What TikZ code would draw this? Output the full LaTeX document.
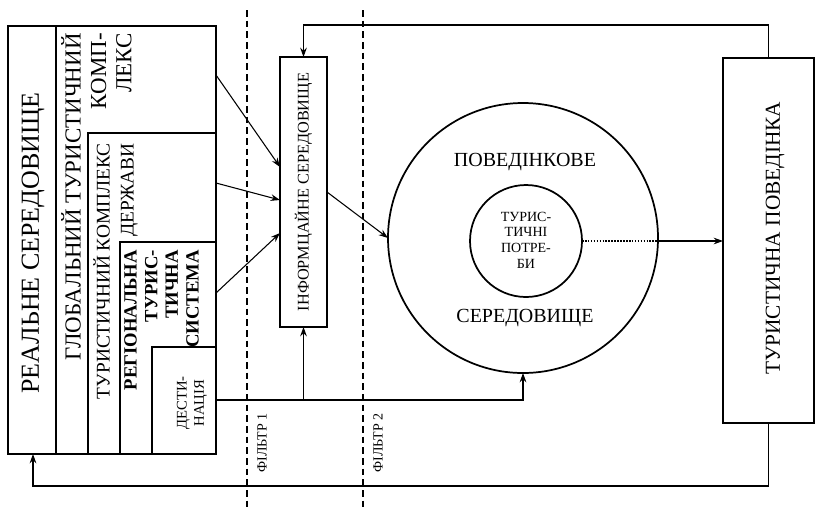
\documentclass[tikz,border=0pt]{standalone}
\usepackage{fontspec}
\setmainfont{Liberation Serif}
\usetikzlibrary{arrows.meta}
\begin{document}
\begin{tikzpicture}[x=0.75pt,y=-0.75pt,
  box/.style={draw, rectangle, inner sep=0pt, outer sep=0pt, line width=1.6pt},
  ring/.style={draw, circle, inner sep=0pt, outer sep=0pt, line width=1.3pt},
  arr/.style={-{Stealth[length=7pt,width=5pt]}, line width=0.8pt},
  filt/.style={dash pattern=on 5pt off 3pt, line width=0.8pt},
  vtxt/.style={rotate=90, inner sep=0pt}]
\useasboundingbox (0,0) rectangle (816,508);
% nested boxes
\node[box, minimum width=156pt, minimum height=321pt] (real) at (112,240) {};
\node[box, minimum width=120pt, minimum height=321pt] (glob) at (136,240) {};
\node[box, minimum width=96pt, minimum height=240.75pt] (state) at (152,293.5) {};
\node[box, minimum width=72pt, minimum height=159pt] (rts) at (168,348) {};
\node[box, minimum width=48pt, minimum height=80.25pt] (dest) at (184,400.5) {};
% other boxes
\node[box, minimum width=35.25pt, minimum height=202.5pt] (info) at (303.5,192) {};
\node[box, line width=1.4pt, minimum width=68.25pt, minimum height=273.75pt] (right) at (768.5,240.5) {};
\node[ring, minimum size=202.5pt] (outer) at (523,238) {};
\node[ring, minimum size=84pt] (inner) at (526,241) {};
% texts
\node[vtxt, font=\fontsize{19.5}{23}\selectfont] (treal) at (33,243) {РЕАЛЬНЕ СЕРЕДОВИЩЕ};
\node[vtxt, align=right, anchor=north east, font=\fontsize{17.2}{19}\selectfont] (tglob) at (61,33) {ГЛОБАЛЬНИЙ ТУРИСТИЧНИЙ\\КОМП-\\ЛЕКС};
\node[vtxt, align=right, anchor=north east, font=\fontsize{14.5}{18}\selectfont] (tstate) at (93,143) {ТУРИСТИЧНИЙ КОМПЛЕКС\\ДЕРЖАВИ};
\node[vtxt, align=right, anchor=north east, font=\bfseries\fontsize{14}{15.5}\selectfont] (trts) at (124,250) {РЕГІОНАЛЬНА\\ТУРИС-\\ТИЧНА\\СИСТЕМА};
\node[vtxt, align=center, font=\fontsize{11}{13}\selectfont] (tdest) at (192,403) {ДЕСТИ-\\НАЦІЯ};
\node[vtxt, font=\fontsize{12.2}{14}\selectfont] (tinfo) at (303.5,192) {ІНФОРМЦАЙНЕ СЕРЕДОВИЩЕ};
\node[vtxt, font=\fontsize{16}{19}\selectfont] (tright) at (775,238) {ТУРИСТИЧНА ПОВЕДІНКА};
\node[font=\fontsize{15}{18}\selectfont] (tpov) at (525,162) {ПОВЕДІНКОВЕ};
\node[font=\fontsize{15}{18}\selectfont] (tser) at (525,318) {СЕРЕДОВИЩЕ};
\node[align=center, inner sep=0pt, font=\fontsize{10.5}{11.75}\selectfont] (tneeds) at (526,240) {ТУРИС-\\ТИЧНІ\\ПОТРЕ-\\БИ};
% filters
\coordinate (f1t) at (247,10); \coordinate (f1b) at (247,508);
\coordinate (f2t) at (363,10); \coordinate (f2b) at (363,508);
\draw[filt] (f1t) -- (f1b);
\draw[filt] (f2t) -- (f2b);
\node[vtxt, font=\fontsize{10.5}{12}\selectfont] (tf1) at (262,443) {ФІЛЬТР 1};
\node[vtxt, font=\fontsize{10.5}{12}\selectfont] (tf2) at (378,443) {ФІЛЬТР 2};
% connectors
\draw[arr] (glob.east |- 0,75) -- (info.west |- 0,167);
\draw[arr] (state.east |- 0,183) -- (info.west |- 0,200);
\draw[arr] (rts.east |- 0,293) -- (info.west |- 0,233);
\draw[arr] (dest.east |- 0,400) -| (outer.south);
\draw[arr] (info.south |- 0,400) -- (info.south);
\draw[arr] (info.east |- 0,192) -- (outer.west);
\draw[arr] (right.north) |- (info.north |- 0,25) -- (info.north);
\coordinate (fb) at (33,486);
\draw[arr] (right.south) |- (fb) -- (real.south -| fb);
\draw[densely dotted, line width=1.2pt] (inner.east) -- (outer.east |- inner.east);
\draw[arr] (outer.east |- inner.east) -- (right.west |- inner.east);
\end{tikzpicture}
\end{document}
